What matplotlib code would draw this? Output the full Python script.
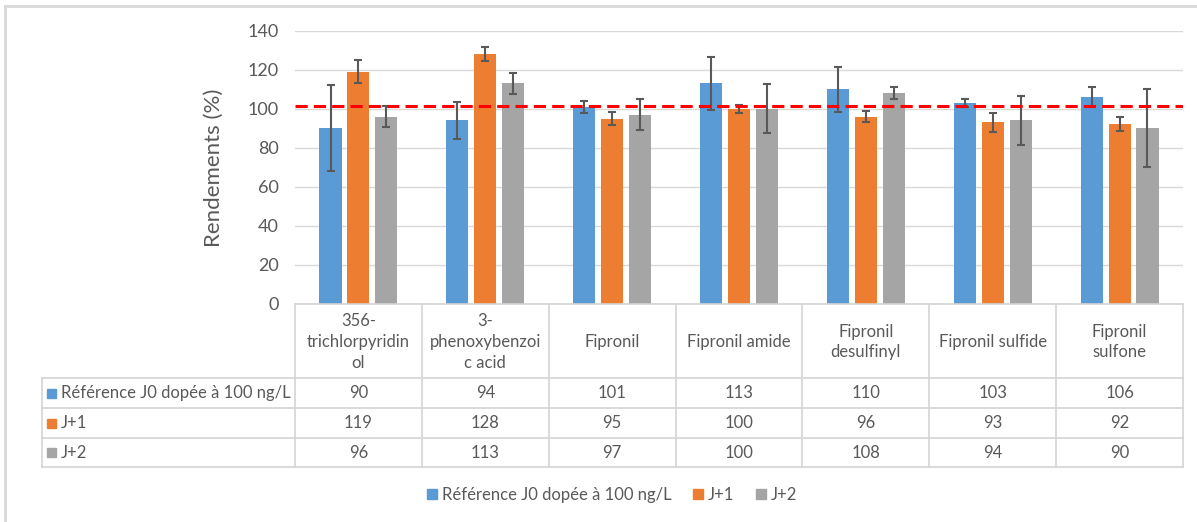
import numpy as np
import matplotlib.pyplot as plt
from matplotlib.patches import Patch
from matplotlib.lines import Line2D

plt.rcParams['font.family'] = ['Lato', 'DejaVu Sans']

categories = ["356-\ntrichlorpyridin\nol", "3-\nphenoxybenzoi\nc acid", "Fipronil",
              "Fipronil amide", "Fipronil\ndesulfinyl", "Fipronil sulfide", "Fipronil\nsulfone"]
series_names = ["Référence J0 dopée à 100 ng/L", "J+1", "J+2"]
ref_j0 = [90, 94, 101, 113, 110, 103, 106]
j1 = [119, 128, 95, 100, 96, 93, 92]
j2 = [96, 113, 97, 100, 108, 94, 90]
err_j0 = [22, 9.5, 3, 13.5, 11.5, 2, 5.3]
err_j1 = [6, 3.5, 3.3, 2, 3, 5, 3.6]
err_j2 = [5.5, 5.3, 8, 12.5, 3, 12.3, 20]
target = 101.6

values = [ref_j0, j1, j2]
errors = [err_j0, err_j1, err_j2]
colors = ["#5B9BD5", "#ED7D31", "#A5A5A5"]
txt = "#595959"
grid = "#D9D9D9"
fs = 12

W, H = 1197, 522
fig = plt.figure(figsize=(W / 100, H / 100), dpi=100)

def fx(px):
    return px / W

def fy(py):
    return 1 - py / H

ax_l, ax_r, ax_t, ax_b = 295, 1183, 30.7, 304
ax = fig.add_axes([fx(ax_l), fy(ax_b), fx(ax_r - ax_l), fy(ax_t) - fy(ax_b)])

n = len(categories)
x = np.arange(n)
step = 0.22
width = 0.174
for i, (vals, errs) in enumerate(zip(values, errors)):
    ax.bar(x + (i - 1) * step, vals, width, color=colors[i], zorder=3,
           yerr=errs, error_kw=dict(ecolor="#595959", elinewidth=1.5, capsize=3, capthick=1.5, zorder=4))

ax.axhline(target, color="#FF0000", lw=2.2, dashes=(4, 2), zorder=5)
ax.set_xlim(-0.5, n - 0.5)
ax.set_ylim(0, 140)
ax.set_yticks(range(0, 141, 20))
ax.yaxis.grid(True, color=grid, lw=1, zorder=0)
ax.set_xticks([])
for s in ax.spines.values():
    s.set_visible(False)
ax.tick_params(axis='y', length=0, pad=11.5, labelsize=13, labelcolor=txt)
ax.set_ylabel("Rendements (%)", fontsize=16, color=txt, labelpad=17)

# data table below the plot
col_w = (ax_r - ax_l) / n
lab_l = 41.7
rows_y = [304, 378, 408, 438, 467]
lc = "#D4D4D4"
def hline(y, x0, x1):
    fig.add_artist(Line2D([fx(x0), fx(x1)], [fy(y), fy(y)], color=lc, lw=1.2))
def vline(xp, y0, y1):
    fig.add_artist(Line2D([fx(xp), fx(xp)], [fy(y0), fy(y1)], color=lc, lw=1.2))

hline(rows_y[0], ax_l, ax_r)
for y in rows_y[1:]:
    hline(y, lab_l, ax_r)
for k in range(n + 1):
    vline(ax_l + k * col_w, rows_y[0], rows_y[-1])
vline(lab_l, rows_y[1], rows_y[-1])

for k, cat in enumerate(categories):
    cx = ax_l + (k + 0.5) * col_w
    fig.text(fx(cx), fy((rows_y[0] + rows_y[1]) / 2 + 1), cat, ha="center", va="center",
             fontsize=fs, color=txt, linespacing=1.35)
    for r in range(3):
        cy = (rows_y[r + 1] + rows_y[r + 2]) / 2
        fig.text(fx(cx), fy(cy), str(values[r][k]), ha="center", va="center", fontsize=fs, color=txt)

for r in range(3):
    cy = (rows_y[r + 1] + rows_y[r + 2]) / 2
    fig.patches.append(plt.Rectangle((fx(47), fy(cy + 4.5)), fx(9), fy(cy - 4.5) - fy(cy + 4.5),
                                     transform=fig.transFigure, color=colors[r]))
    fig.text(fx(61), fy(cy), series_names[r], ha="left", va="center", fontsize=fs, color=txt)

handles = [Patch(color=c, label=s) for c, s in zip(colors, series_names)]
fig.legend(handles=handles, loc="center", bbox_to_anchor=(fx(612), fy(495)), ncol=3, frameon=False,
           fontsize=fs, labelcolor=txt, handlelength=0.6, handleheight=0.6, handletextpad=0.3,
           columnspacing=1.3)

# chart border (left and top visible)
fig.add_artist(Line2D([fx(5), fx(5)], [fy(6), 0], color=grid, lw=2))
fig.add_artist(Line2D([fx(5), 1], [fy(6), fy(6)], color=grid, lw=2))

fig.savefig("out.png", dpi=100)
